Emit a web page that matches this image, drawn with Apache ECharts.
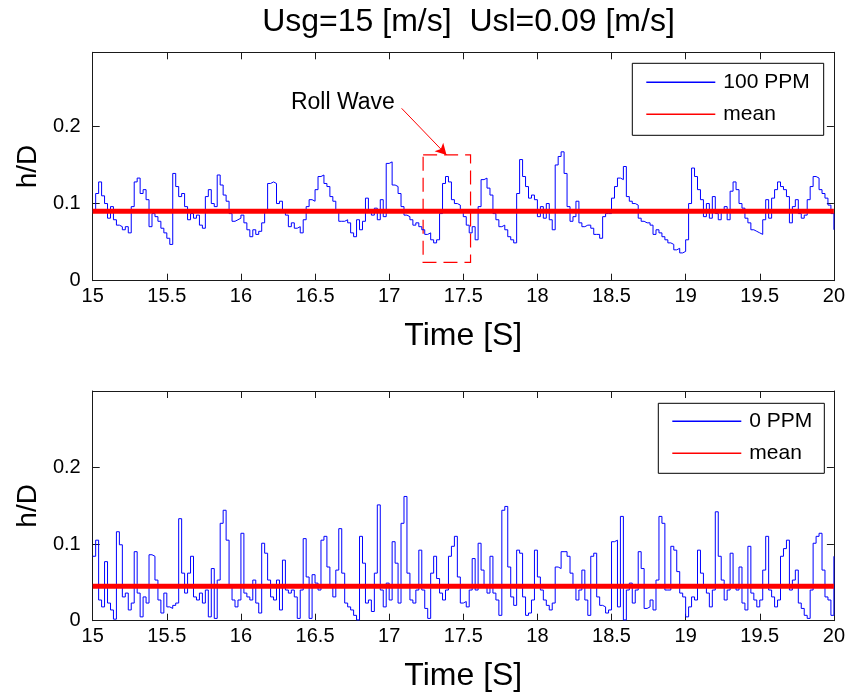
<!DOCTYPE html>
<html>
<head>
<meta charset="utf-8">
<script src="https://cdn.jsdelivr.net/npm/echarts@6/dist/echarts.min.js"></script>
<style>html,body{margin:0;padding:0;background:#fff;}#c{width:848px;height:693px;}</style>
</head>
<body>
<div id="c"></div>
<script>
// ---- data ----
const titleText = 'Usg=15 [m/s]  Usl=0.09 [m/s]';
const xTicks = { min: 15, max: 20, interval: 0.5 };
const yTicks = { min: 0, interval: 0.1 };
const sampleStart = 15, sampleStep = 0.02;

const h100ppm = [
0.090,0.113,0.128,0.110,0.100,0.081,0.096,0.079,0.072,0.070,
0.066,0.070,0.062,0.096,0.128,0.133,0.113,0.118,0.105,0.070,
0.087,0.083,0.077,0.068,0.062,0.055,0.047,0.139,0.122,0.109,
0.113,0.096,0.079,0.087,0.081,0.085,0.072,0.068,0.109,0.118,
0.100,0.096,0.137,0.124,0.111,0.103,0.087,0.077,0.079,0.081,
0.085,0.075,0.066,0.057,0.066,0.060,0.064,0.075,0.090,0.126,
0.128,0.126,0.100,0.103,0.090,0.085,0.070,0.075,0.068,0.070,
0.062,0.079,0.096,0.105,0.103,0.118,0.135,0.137,0.126,0.122,
0.109,0.103,0.092,0.077,
0.077,0.079,0.075,0.062,0.057,0.079,0.066,0.077,0.107,0.090,
0.085,0.094,0.079,0.105,0.083,0.152,0.154,0.124,0.122,0.113,
0.096,0.085,0.083,0.079,0.072,0.075,0.070,0.066,0.060,0.062,
0.053,0.049,0.053,0.087,0.126,0.135,0.128,0.105,0.100,0.098,
0.092,0.083,0.072,0.062,0.070,0.053,0.096,0.131,0.133,0.120,
0.111,0.087,0.079,0.070,0.072,0.066,0.057,0.053,0.049,0.113,
0.157,0.135,0.122,0.107,0.111,0.105,0.083,0.096,0.081,0.100,
0.079,0.066,0.150,0.161,0.167,0.139,0.096,0.077,0.083,0.103,
0.075,0.070,
0.072,0.072,0.068,0.060,0.060,0.055,0.083,0.087,0.087,0.107,
0.122,0.133,0.131,0.148,0.109,0.103,0.100,0.098,0.081,0.077,
0.075,0.075,0.072,0.060,0.066,0.062,0.057,0.053,0.049,0.047,
0.040,0.042,0.036,0.038,0.053,0.100,0.146,0.135,0.118,0.105,
0.083,0.100,0.081,0.109,0.087,0.079,0.092,0.096,0.079,0.116,
0.128,0.118,0.100,0.094,0.081,0.075,0.066,0.064,0.062,0.060,
0.079,0.105,0.081,0.107,0.118,0.128,0.122,0.118,0.109,0.075,
0.096,0.105,0.087,0.081,0.085,0.105,0.122,0.135,0.133,0.118,
0.113,0.107,0.098,0.087,0.066
];

const h0ppm = [
0.084,0.105,0.027,0.018,0.077,0.023,0.014,0.002,0.116,0.099,
0.031,0.036,0.014,0.023,0.090,0.036,0.005,0.031,0.023,0.086,
0.084,0.053,0.027,0.010,0.036,0.018,0.016,0.020,0.023,0.133,
0.062,0.036,0.062,0.084,0.031,0.027,0.036,0.023,0.040,0.005,
0.068,0.003,0.053,0.127,0.144,0.105,0.044,0.027,0.018,0.027,
0.114,0.036,0.031,0.027,0.053,0.023,0.010,0.101,0.088,0.053,
0.031,0.027,0.053,0.014,0.079,0.040,0.036,0.040,0.031,0.003,
0.040,0.107,0.057,0.003,0.060,0.049,0.040,0.105,0.110,0.070,
0.044,0.031,0.066,0.120,
0.062,0.023,0.018,0.014,0.007,0.001,0.110,0.075,0.023,0.027,
0.012,0.062,0.151,0.040,0.018,0.049,0.027,0.103,0.075,0.023,
0.127,0.162,0.062,0.027,0.023,0.040,0.092,0.040,0.016,0.003,
0.062,0.084,0.055,0.036,0.027,0.040,0.084,0.097,0.110,0.057,
0.023,0.025,0.018,0.040,0.081,0.040,0.101,0.066,0.044,0.036,
0.084,0.036,0.027,0.007,0.144,0.149,0.070,0.031,0.020,0.092,
0.088,0.031,0.007,0.010,0.027,0.092,0.057,0.040,0.027,0.020,
0.014,0.023,0.070,0.068,0.090,0.090,0.084,0.062,0.044,0.027,
0.040,0.066,
0.027,0.007,0.084,0.088,0.031,0.020,0.018,0.010,0.014,0.103,
0.105,0.018,0.136,0.001,0.040,0.049,0.023,0.040,0.090,0.068,
0.016,0.018,0.027,0.014,0.053,0.136,0.127,0.040,0.040,0.097,
0.092,0.064,0.036,0.031,0.005,0.018,0.031,0.027,0.092,0.062,
0.044,0.036,0.018,0.040,0.142,0.084,0.053,0.027,0.040,0.088,
0.044,0.040,0.070,0.023,0.014,0.097,0.036,0.027,0.018,0.027,
0.066,0.110,0.040,0.031,0.018,0.027,0.084,0.094,0.105,0.040,
0.053,0.066,0.023,0.016,0.007,0.003,0.040,0.101,0.110,0.114,
0.066,0.031,0.027,0.007,0.084
];

const mean100 = 0.090;
const mean0 = 0.045;
const yMaxTop = 0.296, yMaxBottom = 0.2995;

// annotation (data coordinates)
const rollWaveLabel = 'Roll Wave';
const rollBox = { t0: 17.229, t1: 17.549, v0: 0.0237, v1: 0.163 };
const rollArrow = { t0: 17.084, v0: 0.2234, t1: 17.387, v1: 0.163 };
const rollText = { t: 16.688, v: 0.231 };

// ---- build ----
function pairs(vals) { return vals.map((v, i) => [+(sampleStart + i * sampleStep).toFixed(2), v]); }
const FONT = "'Liberation Sans', Arial, sans-serif";
const AX = '#1a1a1a';

const grids = [
  { left: 92.7, top: 52.3, width: 741.6, height: 228.4 },
  { left: 92.7, top: 391, width: 741.6, height: 229.7 }
];

function xAxes(gi) {
  return [
    { gridIndex: gi, type: 'value', min: xTicks.min, max: xTicks.max, interval: xTicks.interval,
      name: 'Time [S]', nameLocation: 'middle', nameGap: 39,
      nameTextStyle: { fontSize: 32, color: '#000', fontFamily: FONT },
      axisLine: { show: true, lineStyle: { color: AX, width: 1 } },
      axisTick: { show: true, inside: true, length: 7, lineStyle: { color: AX } },
      axisLabel: { fontSize: 20, color: '#000', margin: 6, fontFamily: FONT },
      splitLine: { show: false } },
    { gridIndex: gi, type: 'value', position: 'top', min: xTicks.min, max: xTicks.max, interval: xTicks.interval,
      axisLine: { show: true, onZero: false, lineStyle: { color: AX, width: 1 } },
      axisTick: { show: true, inside: true, length: 7, lineStyle: { color: AX } },
      axisLabel: { show: false }, splitLine: { show: false } }
  ];
}
function yAxes(gi, ymax) {
  return [
    { gridIndex: gi, type: 'value', min: yTicks.min, max: ymax, interval: yTicks.interval,
      name: 'h/D', nameLocation: 'middle', nameGap: 50, nameRotate: 90,
      nameTextStyle: { fontSize: 28, color: '#000', fontFamily: FONT },
      axisLine: { show: true, onZero: false, lineStyle: { color: AX, width: 1 } },
      axisTick: { show: true, inside: true, length: 7, lineStyle: { color: AX } },
      axisLabel: { fontSize: 20, color: '#000', margin: 12, showMaxLabel: false, fontFamily: FONT },
      splitLine: { show: false } },
    { gridIndex: gi, type: 'value', position: 'right', min: yTicks.min, max: ymax, interval: yTicks.interval,
      axisLine: { show: true, onZero: false, lineStyle: { color: AX, width: 1 } },
      axisTick: { show: true, inside: true, length: 7, lineStyle: { color: AX } },
      axisLabel: { show: false }, splitLine: { show: false } }
  ];
}

const legendCommon = {
  orient: 'vertical', icon: 'rect', itemHeight: 1.5, itemWidth: 69, itemGap: 8,
  backgroundColor: '#fff', borderColor: '#000', borderWidth: 1,
  textStyle: { fontSize: 21, color: '#000', fontFamily: FONT, lineHeight: 24, padding: [0, 0, 0, 3] },
  selectedMode: false
};

const option = {
  animation: false,
  backgroundColor: '#fff',
  title: { text: titleText, left: 463.5, top: 1, textAlign: 'center',
    textStyle: { fontSize: 32, fontWeight: 'normal', color: '#000', fontFamily: FONT } },
  grid: grids,
  xAxis: [...xAxes(0), ...xAxes(1)],
  yAxis: [...yAxes(0, yMaxTop), ...yAxes(1, yMaxBottom)],
  legend: [
    Object.assign({}, legendCommon, { data: ['100 PPM', 'mean'], left: 632.3, top: 63.3, padding: [7, 14, 9, 14] }),
    Object.assign({}, legendCommon, { data: ['0 PPM', 'mean'], left: 658.3, top: 403.3, padding: [6, 12, 8, 14] })
  ],
  series: [
    { name: '100 PPM', type: 'line', xAxisIndex: 0, yAxisIndex: 0, data: pairs(h100ppm),
      step: 'end', showSymbol: false, symbol: 'none', z: 2,
      lineStyle: { color: '#0000ff', width: 1 }, itemStyle: { color: '#0000ff' },
      markArea: { silent: true,
        itemStyle: { color: 'rgba(0,0,0,0)', borderColor: '#ff0000', borderWidth: 1.2, borderType: [14, 7] },
        data: [[{ coord: [rollBox.t0, rollBox.v1] }, { coord: [rollBox.t1, rollBox.v0] }]] },
      markLine: { silent: true, symbol: ['none', 'arrow'], symbolSize: [9, 11], label: { show: false },
        lineStyle: { color: '#ff0000', width: 1, type: 'solid' },
        data: [[{ coord: [rollArrow.t0, rollArrow.v0] }, { coord: [rollArrow.t1, rollArrow.v1] }]] },
      markPoint: { silent: true, symbol: 'rect', symbolSize: 1, itemStyle: { color: 'rgba(0,0,0,0)' },
        label: { show: true, position: 'inside', formatter: rollWaveLabel, fontSize: 23, color: '#000', fontFamily: FONT },
        data: [{ coord: [rollText.t, rollText.v] }] } },
    { name: 'mean', type: 'line', xAxisIndex: 0, yAxisIndex: 0,
      data: [[xTicks.min, mean100], [xTicks.max, mean100]], showSymbol: false, symbol: 'none', z: 3,
      lineStyle: { color: '#ff0000', width: 5 }, itemStyle: { color: '#ff0000' } },
    { name: '0 PPM', type: 'line', xAxisIndex: 2, yAxisIndex: 2, data: pairs(h0ppm),
      step: 'end', showSymbol: false, symbol: 'none', z: 2,
      lineStyle: { color: '#0000ff', width: 1 }, itemStyle: { color: '#0000ff' } },
    { name: 'mean', type: 'line', xAxisIndex: 2, yAxisIndex: 2,
      data: [[xTicks.min, mean0], [xTicks.max, mean0]], showSymbol: false, symbol: 'none', z: 3,
      lineStyle: { color: '#ff0000', width: 5 }, itemStyle: { color: '#ff0000' } }
  ]
};

const chart = echarts.init(document.getElementById('c'), null, { renderer: 'canvas' });
chart.setOption(option);
</script>
</body>
</html>
